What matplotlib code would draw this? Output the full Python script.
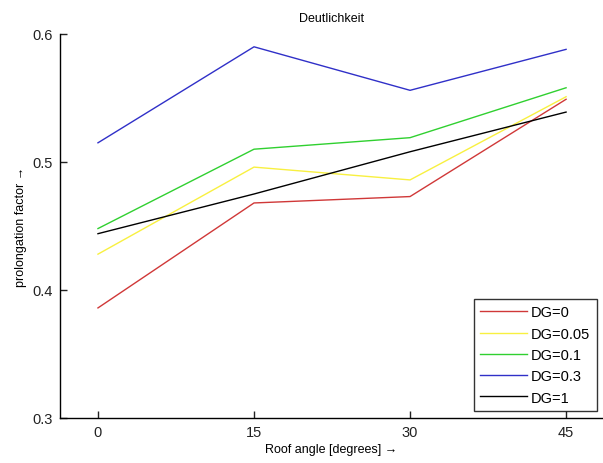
import matplotlib.pyplot as plt

plt.rcParams["font.family"] = ["Liberation Sans", "DejaVu Sans"]

# roof angle in degrees
angles = [0, 15, 30, 45]

dg_0 = [0.386, 0.468, 0.473, 0.549]
dg_005 = [0.428, 0.496, 0.486, 0.551]
dg_01 = [0.448, 0.510, 0.519, 0.558]
dg_03 = [0.515, 0.590, 0.556, 0.588]
dg_1 = [0.444, 0.475, 0.508, 0.539]

labels = ["DG=0", "DG=0.05", "DG=0.1", "DG=0.3", "DG=1"]
colors = ["#d03838", "#f8f040", "#30d030", "#3030c8", "#000000"]

y_ticks = [0.3, 0.4, 0.5, 0.6]


def main():
    fig = plt.figure(figsize=(6.03, 4.64), dpi=100)
    ax = fig.add_axes([60 / 603, 45 / 464, 543 / 603, 384 / 464])

    for vals, lab, col in zip([dg_0, dg_005, dg_01, dg_03, dg_1], labels, colors):
        ax.plot(angles, vals, color=col, linewidth=1.0, label=lab)

    ax.set_xlim(-3.65, 48.55)
    ax.set_ylim(0.3, 0.6)
    ax.set_xticks(angles)
    ax.set_yticks(y_ticks)
    ax.set_yticklabels(["0.3", "0.4", "0.5", "0.6"])

    ax.spines["top"].set_visible(False)
    ax.spines["right"].set_visible(False)
    for sp in ("left", "bottom"):
        ax.spines[sp].set_linewidth(1.0)
    ax.tick_params(direction="in", length=5, width=1.0, labelsize=10.5,
                   colors="#222222", pad=5)

    ax.set_title("Deutlichkeit", fontsize=9, pad=9)
    ax.set_xlabel("Roof angle [degrees] \u2192", fontsize=9, labelpad=3)
    ax.set_ylabel("prolongation factor \u2192", fontsize=9, labelpad=4)

    leg = ax.legend(loc="lower right", bbox_to_anchor=(0.989, 0.018),
                    fontsize=10.5, frameon=True, fancybox=False,
                    handlelength=3.2, handletextpad=0.3, borderpad=0.45,
                    labelspacing=0.5, borderaxespad=0.0)
    leg.get_frame().set_edgecolor("black")
    leg.get_frame().set_linewidth(1.0)

    fig.savefig("out.png", dpi=100)


if __name__ == "__main__":
    main()
